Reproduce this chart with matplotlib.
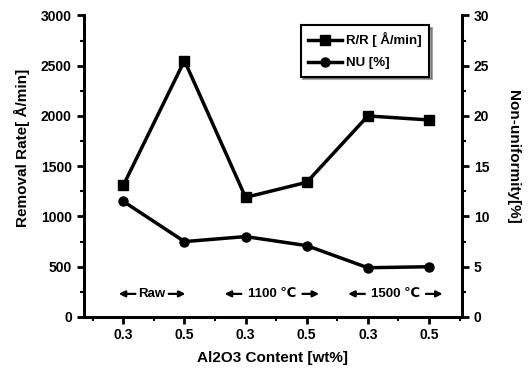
import matplotlib
matplotlib.use("Agg")
import matplotlib.pyplot as plt
from matplotlib.ticker import MultipleLocator

x_pos = [1, 2, 3, 4, 5, 6]
x_labels = ["0.3", "0.5", "0.3", "0.5", "0.3", "0.5"]
removal_rate = [1310, 2550, 1190, 1340, 2000, 1960]
non_uniformity = [11.5, 7.5, 8.0, 7.1, 4.9, 5.0]
groups = ["Raw", "1100 \u2103", "1500 \u2103"]
group_centers = [1.47, 3.43, 5.45]

plt.rcParams['font.family'] = ['Liberation Sans', 'DejaVu Sans']
plt.rcParams['font.weight'] = 'bold'

fig = plt.figure(figsize=(5.31, 3.74), dpi=100)
ax = fig.add_axes([83.6/531, 1-317/374, (462-83.6)/531, (317-15.4)/374])
ax2 = ax.twinx()

ax.plot(x_pos, removal_rate, color='black', lw=2.5, marker='s', ms=6.5, label='R/R [ \u00c5/min]')
ax2.plot(x_pos, non_uniformity, color='black', lw=2.5, marker='o', ms=6.5, label='NU [%]')

ax.set_xlim(0.35, 6.54)
ax.set_ylim(0, 3000)
ax2.set_ylim(0, 30)
ax.set_xticks(x_pos)
ax.set_xticklabels(x_labels)
ax.xaxis.set_minor_locator(MultipleLocator(0.5))
ax.yaxis.set_major_locator(MultipleLocator(500))
ax.yaxis.set_minor_locator(MultipleLocator(250))
ax2.yaxis.set_major_locator(MultipleLocator(5))
ax2.yaxis.set_minor_locator(MultipleLocator(2.5))

for a in (ax, ax2):
    a.spines['top'].set_visible(False)
    for s in ('left', 'right', 'bottom'):
        a.spines[s].set_linewidth(2)
    a.tick_params(which='major', direction='out', length=5, width=2, labelsize=10)
    a.tick_params(which='minor', direction='out', length=3, width=1.5)
ax.tick_params(axis='x', pad=3)

ax.set_ylabel('Removal Rate[ \u00c5/min]', fontsize=11, fontweight='bold', va='center')
ax.yaxis.set_label_coords(-0.163, 0.56)
ax2.set_ylabel('Non-uniformity[%]', fontsize=11, fontweight='bold', rotation=-90, va='center')
ax2.yaxis.set_label_coords(1.135, 0.53)
ax.set_xlabel('Al2O3 Content [wt%]', fontsize=11, fontweight='bold')
ax.xaxis.set_label_coords(0.5, -0.112)

h1, l1 = ax.get_legend_handles_labels()
h2, l2 = ax2.get_legend_handles_labels()
leg = ax2.legend(h1 + h2, l1 + l2, loc='upper right', bbox_to_anchor=(0.93, 0.99),
                 fontsize=9.5, frameon=True, fancybox=False, shadow=True,
                 handlelength=2.6, edgecolor='black', borderpad=0.55, labelspacing=0.75,
                 handletextpad=0.3)
leg.get_frame().set_linewidth(1.5)

half_widths = [12, 22, 22]  # points
arrow_len = 12
for c, g, hw in zip(group_centers, groups, half_widths):
    ax.annotate(g, xy=(c, 230), ha='center', va='center', fontsize=9.5, fontweight='bold')
    for sgn in (-1, 1):
        ax.annotate('', xy=(c, 230), xycoords='data',
                    xytext=(sgn * (hw + arrow_len), 0), textcoords='offset points',
                    arrowprops=dict(arrowstyle='<|-', color='black', lw=1.6,
                                    mutation_scale=9, shrinkA=0,
                                    shrinkB=hw, patchB=None))
fig.savefig('out.png', dpi=100)
